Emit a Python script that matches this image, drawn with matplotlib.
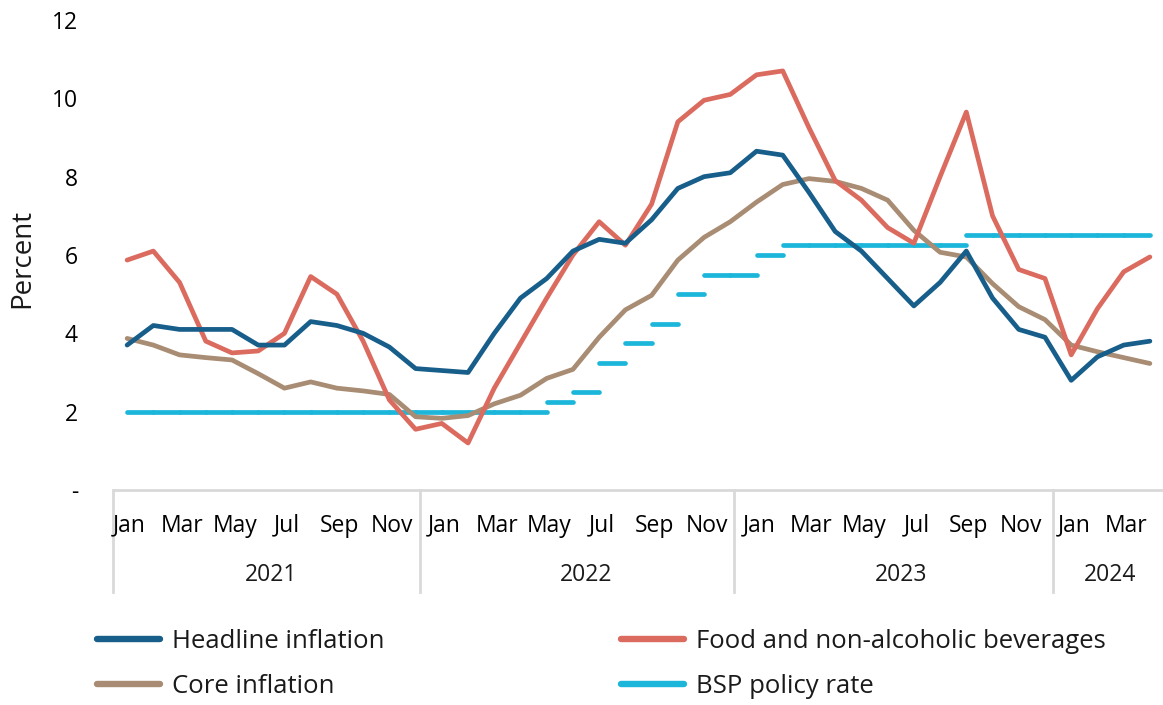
import numpy as np
import matplotlib.pyplot as plt
from matplotlib.lines import Line2D
import matplotlib.transforms as mtransforms

# monthly data, Jan 2021 - Apr 2024
month_names = ["Jan", "Feb", "Mar", "Apr", "May", "Jun",
               "Jul", "Aug", "Sep", "Oct", "Nov", "Dec"]
months = month_names * 3 + month_names[:4]
years = ["2021", "2022", "2023", "2024"]
months_per_year = [12, 12, 12, 4]

headline = [3.7, 4.2, 4.1, 4.1, 4.1, 3.7, 3.7, 4.3, 4.2, 4.0, 3.65, 3.1,
            3.05, 3.0, 4.0, 4.9, 5.4, 6.1, 6.4, 6.3, 6.9, 7.7, 8.0, 8.1,
            8.65, 8.55, 7.6, 6.6, 6.1, 5.4, 4.7, 5.3, 6.1, 4.9, 4.1, 3.9,
            2.8, 3.4, 3.7, 3.8]
food = [5.87, 6.1, 5.3, 3.8, 3.5, 3.55, 4.0, 5.45, 5.0, 3.8, 2.3, 1.55,
        1.7, 1.2, 2.6, 3.75, 4.9, 6.0, 6.85, 6.25, 7.3, 9.4, 9.95, 10.1,
        10.6, 10.7, 9.25, 7.9, 7.4, 6.7, 6.3, 8.0, 9.65, 7.0, 5.63, 5.4,
        3.45, 4.63, 5.57, 5.95]
core = [3.87, 3.7, 3.45, 3.38, 3.32, 2.97, 2.6, 2.76, 2.6, 2.53, 2.44, 1.87,
        1.83, 1.9, 2.2, 2.42, 2.85, 3.08, 3.9, 4.6, 4.97, 5.87, 6.45, 6.85,
        7.35, 7.8, 7.95, 7.88, 7.7, 7.4, 6.63, 6.07, 5.95, 5.27, 4.68, 4.35,
        3.7, 3.53, 3.38, 3.23]
# policy rate level from one month to the next
policy_rate = [2.0] * 16 + [2.25, 2.5, 3.25, 3.75, 4.25, 5.0, 5.5, 5.5, 6.0] \
    + [6.25] * 7 + [6.5] * 7

c_head = "#175E8B"
c_food = "#DB6B5F"
c_core = "#A88C73"
c_bsp = "#1CB6DB"
c_axis = "#D9D9D9"

plt.rcParams["font.family"] = ["Open Sans", "DejaVu Sans"]
plt.rcParams["text.color"] = "#1A1A1A"
fs = 16.5
fs_leg = 18.5

fig = plt.figure(figsize=(11.63, 7.05), dpi=100)
ax = fig.add_axes([114 / 1163, 1 - 490 / 705, 1 - 114 / 1163, 470 / 705])

x = np.arange(len(headline))
lw = 3.4
ax.hlines(policy_rate, x[:-1], x[1:], colors=c_bsp, lw=lw, capstyle="round", zorder=2)
ax.plot(x, core, color=c_core, lw=lw, solid_joinstyle="round", solid_capstyle="round", zorder=3)
ax.plot(x, food, color=c_food, lw=lw, solid_joinstyle="round", solid_capstyle="round", zorder=4)
ax.plot(x, headline, color=c_head, lw=lw, solid_joinstyle="round", solid_capstyle="round", zorder=5)

ax.set_xlim(-0.5, len(x) - 0.5)
ax.set_ylim(0, 12)

ax.set_yticks(range(0, 13, 2))
ax.set_yticklabels(["-"] + [str(v) for v in range(2, 13, 2)])
ax.tick_params(axis="y", length=0, pad=26, labelsize=fs)

ax.set_xticks(x[::2] + 0.1)
ax.set_xticklabels(months[::2])
ax.tick_params(axis="x", length=0, pad=17, labelsize=fs)

for side in ["top", "right", "left"]:
    ax.spines[side].set_visible(False)
ax.spines["bottom"].set_color(c_axis)
ax.spines["bottom"].set_linewidth(2)

# year groups below month labels
trans = mtransforms.blended_transform_factory(ax.transData, ax.transAxes)
start = 0
for yr, n in zip(years, months_per_year):
    ax.text(start + (n - 1) / 2, -0.181, yr, transform=trans, ha="center", va="center", fontsize=fs)
    start += n
# group separators sit a little left of the year boundary, as in the source chart
for e in [-0.55, 11.17, 23.14, 35.3]:
    ax.plot([e, e], [0, -0.217], transform=trans, color=c_axis, lw=2, clip_on=False, zorder=0.5)

fig.text(22 / 1163, 1 - 258 / 705, "Percent", rotation=90, ha="center", va="center", fontsize=20)

handles = [
    Line2D([], [], color=c_head, lw=4.6, solid_capstyle="round"),
    Line2D([], [], color=c_core, lw=4.6, solid_capstyle="round"),
    Line2D([], [], color=c_food, lw=4.6, solid_capstyle="round"),
    Line2D([], [], color=c_bsp, lw=4.6, solid_capstyle="round"),
]
labels = ["Headline inflation", "Core inflation",
          "Food and non-alcoholic beverages", "BSP policy rate"]
fig.legend(handles, labels, loc="center left", bbox_to_anchor=(97 / 1163, 1 - 664 / 705),
           ncol=2, frameon=False, fontsize=fs_leg, handlelength=2.45, handletextpad=0.47,
           columnspacing=9.2, labelspacing=0.8, borderpad=0, borderaxespad=0)

fig.savefig("out.png", dpi=100)
